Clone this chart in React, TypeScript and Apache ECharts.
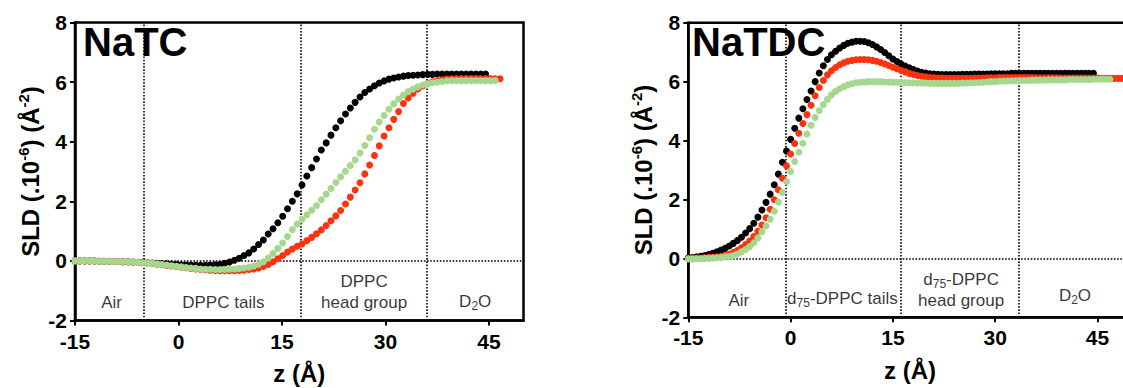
import React, { useEffect, useRef } from "react";
import * as echarts from "echarts";

const FONT = "'Liberation Sans', Arial, Helvetica, sans-serif";

// Depth axis (z, Å) and SLD axis (10^-6 Å^-2)
const Z_MIN = -15;
const Z_MAX = 50;
const Z_TICKS = [-15, 0, 15, 30, 45];
const SLD_MIN = -2;
const SLD_MAX = 8;

// Profiles are sampled on a regular z grid starting at Z_START
const Z_START = -15;
const STEP_NATC = 0.7;
const STEP_NATDC = 0.6;

// NaTC panel (DPPC)
const natcBlack = [
  0.0, 0.0, 0.0, 0.0, 0.0, -0.01, -0.01, -0.01, -0.02, -0.02,
  -0.03, -0.03, -0.04, -0.05, -0.05, -0.06, -0.07, -0.08, -0.09, -0.1,
  -0.11, -0.12, -0.13, -0.14, -0.14, -0.15, -0.15, -0.15, -0.14, -0.13,
  -0.11, -0.08, -0.04, 0.02, 0.09, 0.18, 0.27, 0.4, 0.55, 0.7,
  0.9, 1.08, 1.28, 1.5, 1.75, 2.0, 2.25, 2.55, 2.85, 3.13,
  3.42, 3.72, 3.96, 4.22, 4.47, 4.7, 4.93, 5.13, 5.32, 5.5,
  5.65, 5.77, 5.88, 5.97, 6.04, 6.1, 6.14, 6.17, 6.2, 6.22,
  6.23, 6.24, 6.25, 6.26, 6.26, 6.27, 6.27, 6.27, 6.27, 6.27,
  6.27, 6.27, 6.27, 6.27, 6.27, 6.27,
];
const natcRed = [
  0.0, 0.0, 0.0, 0.0, 0.0, -0.01, -0.01, -0.01, -0.02, -0.02,
  -0.03, -0.03, -0.04, -0.05, -0.06, -0.07, -0.09, -0.11, -0.13, -0.15,
  -0.17, -0.19, -0.21, -0.23, -0.25, -0.27, -0.29, -0.3, -0.31, -0.32,
  -0.33, -0.33, -0.33, -0.33, -0.32, -0.31, -0.29, -0.27, -0.24, -0.19,
  -0.12, -0.03, 0.07, 0.18, 0.3, 0.4, 0.49, 0.57, 0.68, 0.79,
  0.91, 1.04, 1.19, 1.35, 1.51, 1.69, 1.91, 2.14, 2.38, 2.62,
  2.92, 3.22, 3.54, 3.86, 4.19, 4.47, 4.75, 5.01, 5.28, 5.47,
  5.63, 5.77, 5.87, 5.95, 6.01, 6.05, 6.08, 6.1, 6.11, 6.12,
  6.12, 6.12, 6.12, 6.12, 6.12, 6.12, 6.12, 6.11, 6.11,
];
const natcGreen = [
  0.0, 0.0, 0.0, 0.0, 0.0, -0.01, -0.01, -0.01, -0.02, -0.02,
  -0.03, -0.03, -0.04, -0.05, -0.06, -0.07, -0.08, -0.1, -0.12, -0.14,
  -0.16, -0.18, -0.2, -0.22, -0.24, -0.25, -0.27, -0.28, -0.28, -0.29,
  -0.29, -0.29, -0.28, -0.27, -0.26, -0.24, -0.21, -0.17, -0.11, -0.03,
  0.1, 0.25, 0.42, 0.6, 0.82, 1.05, 1.24, 1.4, 1.55, 1.7,
  1.86, 2.05, 2.24, 2.43, 2.63, 2.82, 3.01, 3.2, 3.39, 3.62,
  3.87, 4.13, 4.42, 4.66, 4.88, 5.09, 5.27, 5.43, 5.57, 5.68,
  5.77, 5.84, 5.9, 5.94, 5.98, 6.0, 6.02, 6.04, 6.05, 6.05,
  6.05, 6.05, 6.05, 6.05, 6.05, 6.05, 6.05, 6.05,
];

// NaTDC panel (d75-DPPC)
const natdcBlack = [
  0.02, 0.03, 0.05, 0.07, 0.1, 0.13, 0.17, 0.22, 0.28, 0.34,
  0.42, 0.51, 0.61, 0.72, 0.86, 1.01, 1.19, 1.4, 1.64, 1.9,
  2.18, 2.5, 2.86, 3.26, 3.64, 4.04, 4.42, 4.76, 5.08, 5.39,
  5.68, 6.0, 6.29, 6.54, 6.75, 6.91, 7.03, 7.14, 7.23, 7.3,
  7.34, 7.37, 7.37, 7.36, 7.32, 7.26, 7.18, 7.09, 6.99, 6.88,
  6.77, 6.68, 6.6, 6.53, 6.47, 6.41, 6.36, 6.32, 6.29, 6.27,
  6.26, 6.25, 6.24, 6.24, 6.24, 6.24, 6.24, 6.25, 6.25, 6.25,
  6.26, 6.26, 6.26, 6.26, 6.27, 6.27, 6.27, 6.27, 6.27, 6.28,
  6.28, 6.28, 6.28, 6.28, 6.28, 6.28, 6.28, 6.28, 6.28, 6.28,
  6.28, 6.28, 6.28, 6.28, 6.28, 6.28, 6.28, 6.28, 6.28, 6.28,
];
const natdcRed = [
  0.0, 0.0, 0.01, 0.01, 0.02, 0.03, 0.04, 0.05, 0.07, 0.1,
  0.14, 0.2, 0.27, 0.36, 0.47, 0.59, 0.74, 0.92, 1.13, 1.38,
  1.67, 1.99, 2.33, 2.72, 3.14, 3.54, 3.9, 4.25, 4.58, 4.88,
  5.2, 5.52, 5.8, 6.04, 6.23, 6.37, 6.48, 6.57, 6.64, 6.69,
  6.72, 6.74, 6.75, 6.75, 6.74, 6.72, 6.69, 6.65, 6.6, 6.55,
  6.49, 6.44, 6.38, 6.33, 6.28, 6.24, 6.21, 6.18, 6.16, 6.14,
  6.13, 6.12, 6.12, 6.11, 6.11, 6.11, 6.11, 6.11, 6.11, 6.11,
  6.12, 6.12, 6.12, 6.13, 6.13, 6.13, 6.14, 6.14, 6.14, 6.14,
  6.14, 6.14, 6.14, 6.14, 6.14, 6.13, 6.13, 6.13, 6.13, 6.13,
  6.13, 6.12, 6.12, 6.12, 6.12, 6.12, 6.12, 6.12, 6.12, 6.12,
  6.12, 6.11, 6.11, 6.11, 6.11, 6.11, 6.11, 6.11,
];
const natdcGreen = [
  -0.02, -0.02, -0.01, -0.01, 0.0, 0.0, 0.01, 0.02, 0.03, 0.05,
  0.07, 0.1, 0.15, 0.22, 0.3, 0.4, 0.53, 0.69, 0.9, 1.1,
  1.33, 1.6, 1.91, 2.24, 2.6, 2.95, 3.29, 3.6, 3.91, 4.22,
  4.52, 4.78, 5.02, 5.22, 5.4, 5.55, 5.67, 5.76, 5.83, 5.89,
  5.93, 5.96, 5.98, 5.99, 6.0, 6.0, 6.0, 6.0, 5.99, 5.99,
  5.98, 5.98, 5.97, 5.97, 5.96, 5.96, 5.95, 5.95, 5.95, 5.94,
  5.94, 5.94, 5.94, 5.94, 5.94, 5.94, 5.94, 5.95, 5.95, 5.96,
  5.96, 5.97, 5.98, 5.99, 6.0, 6.0, 6.01, 6.02, 6.02, 6.03,
  6.03, 6.04, 6.04, 6.04, 6.05, 6.05, 6.05, 6.05, 6.06, 6.06,
  6.06, 6.06, 6.06, 6.07, 6.07, 6.07, 6.07, 6.07, 6.07, 6.08,
  6.08, 6.08, 6.08, 6.08,
];

// Layer boundaries (z, Å)
const natcBoundaries = [-5, 17.75, 36];
const natdcBoundaries = [-0.7, 16.2, 33.4];

// Layer names, anchored at (z, SLD)
const natcLayers = [
  { z: -9.7, sld: -1.41, text: "Air" },
  { z: 6.5, sld: -1.41, text: "DPPC tails" },
  { z: 26.9, sld: -1.05, text: "DPPC\nhead group" },
  { z: 43.0, sld: -1.36, text: "D{sub|2}O" },
];
const natdcLayers = [
  { z: -7.6, sld: -1.42, text: "Air" },
  { z: 7.6, sld: -1.36, text: "d{sub|75}-DPPC tails" },
  { z: 25.0, sld: -1.08, text: "d{sub|75}-DPPC\nhead group" },
  { z: 41.7, sld: -1.26, text: "D{sub|2}O" },
];

const COLOR_BLACK = "#000000";
const COLOR_RED = "#ff3210";
const COLOR_GREEN = "#a6d78f";

function toPoints(values: number[], step: number) {
  return values.map((v, i) => [Number((Z_START + i * step).toFixed(2)), v]);
}

function profileSeries(values: number[], step: number, color: string, gridIndex: number, extra: any = {}) {
  return {
    type: "scatter",
    xAxisIndex: gridIndex,
    yAxisIndex: gridIndex,
    data: toPoints(values, step),
    symbol: "circle",
    symbolSize: 7,
    itemStyle: { color, opacity: 1 },
    silent: true,
    z: 3,
    ...extra,
  };
}

function boundaryLines(bounds: number[]) {
  return {
    silent: true,
    symbol: ["none", "none"],
    label: { show: false },
    z: 1,
    lineStyle: { type: "dotted", color: "#000", width: 1.6, opacity: 1 },
    data: [{ yAxis: 0 }, ...bounds.map((b) => ({ xAxis: b }))],
  };
}

function layerLabels(layers: { z: number; sld: number; text: string }[], gridIndex: number) {
  return {
    type: "scatter",
    xAxisIndex: gridIndex,
    yAxisIndex: gridIndex,
    symbolSize: 0,
    silent: true,
    z: 4,
    itemStyle: { color: "transparent" },
    data: layers.map((l) => ({ value: [l.z, l.sld], label: { formatter: l.text } })),
    label: {
      show: true,
      position: "inside",
      color: "#000",
      fontFamily: FONT,
      fontSize: 17,
      lineHeight: 21,
      align: "center",
      rich: {
        sub: {
          fontFamily: FONT,
          fontSize: 12,
          lineHeight: 8,
          color: "#000",
          verticalAlign: "bottom",
        },
      },
    },
  };
}

function xAxis(gridIndex: number) {
  return {
    type: "value",
    gridIndex,
    min: Z_MIN,
    max: Z_MAX,
    interval: 15,
    name: "z (Å)",
    nameLocation: "middle",
    nameGap: 41,
    nameTextStyle: { fontFamily: FONT, fontSize: 24, fontWeight: "bold", color: "#000" },
    axisLine: { show: true, onZero: false, lineStyle: { color: "#000", width: 2.5 } },
    axisTick: { show: true, length: 5, customValues: Z_TICKS, lineStyle: { color: "#000", width: 2 } },
    axisLabel: {
      customValues: Z_TICKS,
      fontFamily: FONT,
      fontSize: 21,
      fontWeight: "bold",
      color: "#000",
      margin: 10,
    },
    splitLine: { show: false },
  };
}

function yAxis(gridIndex: number) {
  return {
    type: "value",
    gridIndex,
    min: SLD_MIN,
    max: SLD_MAX,
    interval: 2,
    name: "SLD (.10{sup|-6}) (Å{sup|-2})",
    nameLocation: "middle",
    nameRotate: 90,
    nameGap: 31,
    nameTextStyle: {
      fontFamily: FONT,
      fontSize: 24,
      fontWeight: "bold",
      color: "#000",
      lineHeight: 28,
      rich: {
        sup: {
          fontFamily: FONT,
          fontSize: 15,
          fontWeight: "bold",
          color: "#000",
          lineHeight: 12,
          verticalAlign: "top",
        },
      },
    },
    axisLine: { show: true, onZero: false, lineStyle: { color: "#000", width: 2.5 } },
    axisTick: { show: true, length: 5, lineStyle: { color: "#000", width: 2 } },
    axisLabel: { fontFamily: FONT, fontSize: 21, fontWeight: "bold", color: "#000", margin: 8 },
    splitLine: { show: false },
  };
}

export default function App() {
  const ref = useRef<HTMLDivElement>(null);

  useEffect(() => {
    if (!ref.current) return;
    const chart = echarts.init(ref.current, undefined, { renderer: "svg" });
    const gridStyle = {
      show: true,
      borderColor: "#000",
      borderWidth: 2.5,
      backgroundColor: "transparent",
      containLabel: false,
      outerBoundsMode: "none",
    };

    chart.setOption({
      animation: false,
      backgroundColor: "#ffffff",
      title: [
        {
          text: "NaTC",
          left: 83,
          top: 22,
          padding: 0,
          textStyle: { fontFamily: FONT, fontSize: 40, fontWeight: "bold", color: "#000", lineHeight: 40 },
        },
        {
          text: "NaTDC",
          left: 692,
          top: 22,
          padding: 0,
          textStyle: { fontFamily: FONT, fontSize: 40, fontWeight: "bold", color: "#000", lineHeight: 40 },
        },
      ],
      grid: [
        { ...gridStyle, left: 75, top: 22.5, width: 448.5, height: 298 },
        { ...gridStyle, left: 688.3, top: 22.7, width: 443.3, height: 294.6 },
      ],
      xAxis: [xAxis(0), xAxis(1)],
      yAxis: [yAxis(0), yAxis(1)],
      series: [
        profileSeries(natcBlack, STEP_NATC, COLOR_BLACK, 0, { markLine: boundaryLines(natcBoundaries) }),
        profileSeries(natcRed, STEP_NATC, COLOR_RED, 0),
        profileSeries(natcGreen, STEP_NATC, COLOR_GREEN, 0),
        layerLabels(natcLayers, 0),
        profileSeries(natdcBlack, STEP_NATDC, COLOR_BLACK, 1, { markLine: boundaryLines(natdcBoundaries) }),
        profileSeries(natdcRed, STEP_NATDC, COLOR_RED, 1),
        profileSeries(natdcGreen, STEP_NATDC, COLOR_GREEN, 1),
        layerLabels(natdcLayers, 1),
      ],
    });

    return () => chart.dispose();
  }, []);

  return (
    <div
      ref={ref}
      style={{ position: "absolute", left: 0, top: 0, width: 1123, height: 388 }}
    />
  );
}
